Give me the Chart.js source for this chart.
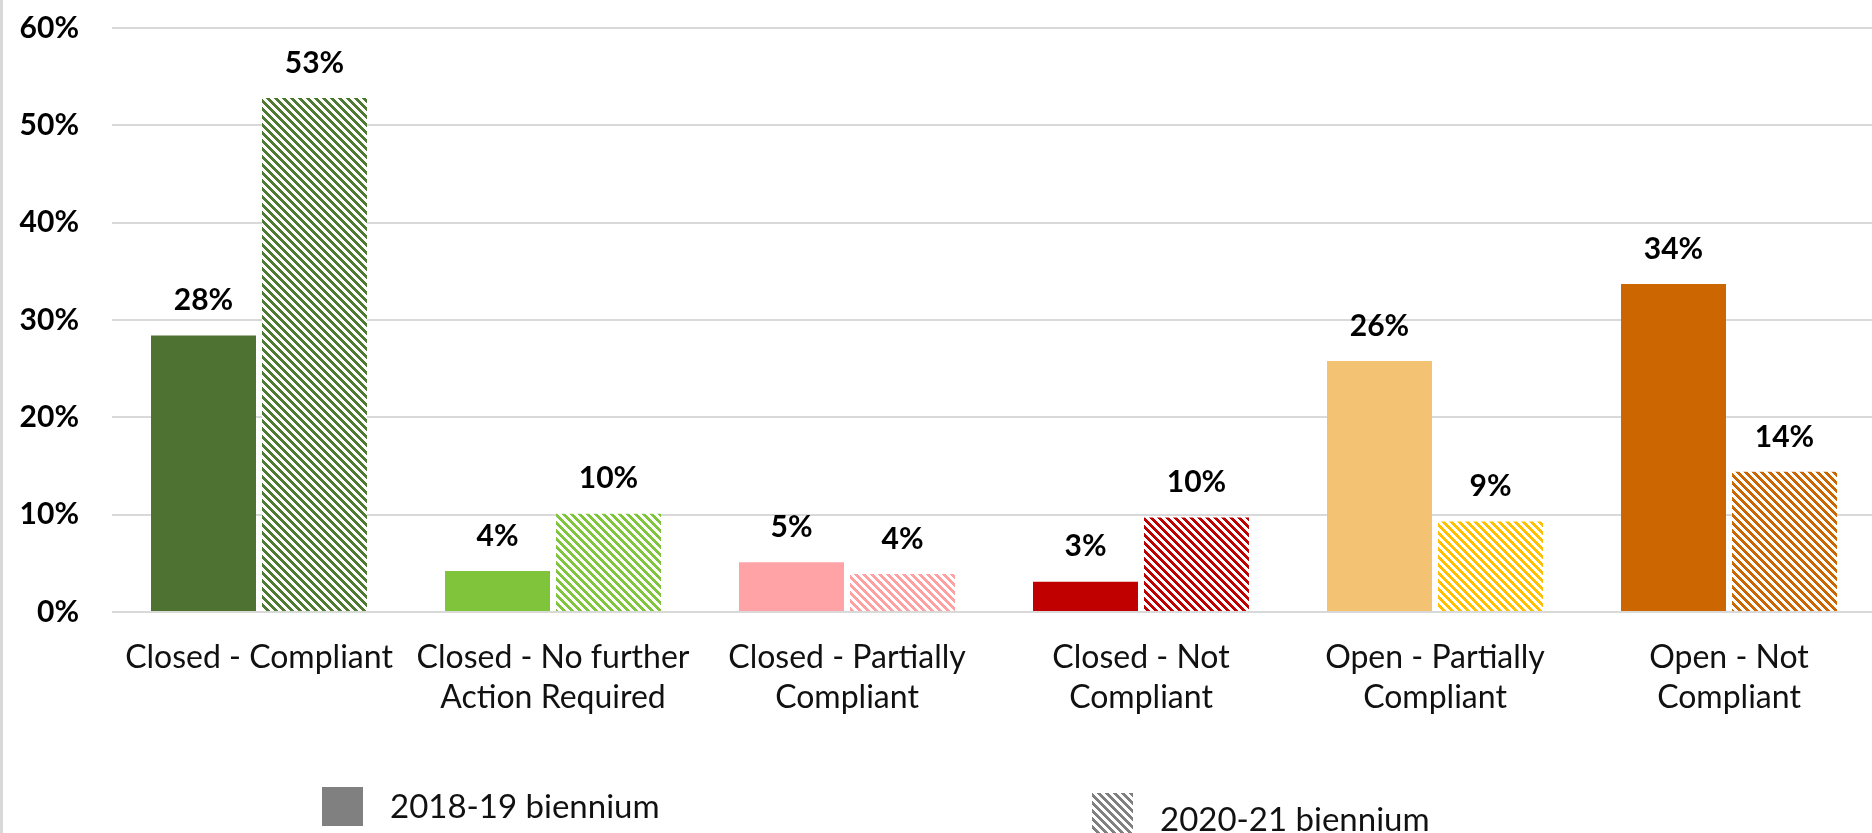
<!DOCTYPE html>
<html>
<head>
<meta charset="utf-8">
<script src="https://cdn.jsdelivr.net/npm/chart.js@4/dist/chart.umd.min.js"></script>
<style>
  html, body { margin: 0; padding: 0; background: #fff; overflow: hidden; }
  #wrap { position: relative; width: 1872px; height: 833px; overflow: hidden; }
  #edge { position: absolute; left: 0; top: 0; width: 3px; height: 833px; background: #d9d9d9; }
  #chart { position: absolute; left: 0; top: 0; }
</style>
</head>
<body>
<div id="wrap">
  <canvas id="chart" width="1880" height="833"></canvas>
  <div id="edge"></div>
</div>
<script>
// categories (multi-line labels as shown under the axis)
const categories = [
  ['Closed - Compliant'],
  ['Closed - No further', 'Action Required'],
  ['Closed - Partially', 'Compliant'],
  ['Closed - Not', 'Compliant'],
  ['Open - Partially', 'Compliant'],
  ['Open - Not', 'Compliant']
]
const seriesNames = ['2018-19 biennium', '2020-21 biennium']
const values2018 = [28.4, 4.2, 5.1, 3.1, 25.8, 33.7]
const values2020 = [52.8, 10.1, 3.9, 9.7, 9.3, 14.4]
const yTicks = [0, 10, 20, 30, 40, 50, 60]

const colors2018 = ['#4e7232', '#7fc43b', '#ffa3a6', '#c00000', '#f4c273', '#cc6600']
const colors2020 = ['#4e7a32', '#80c63c', '#ffa0a3', '#c00000', '#ffc000', '#cc6600']

const FONT = 'Lato, "Open Sans", sans-serif'

// wide downward diagonal hatch, like the Excel pattern fill
function hatch(color) {
    const c = document.createElement('canvas')
    c.width = 8
    c.height = 8
    const g = c.getContext('2d')
    g.fillStyle = '#fff'
    g.fillRect(0, 0, 8, 8)
    g.fillStyle = color
    for (let y = 0; y < 8; y++) {
        for (let x = 0; x < 8; x++) {
            if (((x - y) % 8 + 8) % 8 < 4) g.fillRect(x, y, 1, 1)
        }
    }
    return g.createPattern(c, 'repeat')
}

const valueLabels = {
    id: 'valueLabels',
    afterDatasetsDraw(chart) {
        const ctx = chart.ctx
        ctx.save()
        ctx.font = 'bold 30px ' + FONT
        ctx.fillStyle = '#000'
        ctx.textAlign = 'center'
        ctx.textBaseline = 'middle'
        chart.data.datasets.forEach((ds, i) => {
            chart.getDatasetMeta(i).data.forEach((bar, j) => {
                ctx.fillText(Math.round(ds.data[j]) + '%', bar.x, bar.y - 35)
            })
        })
        ctx.restore()
    }
}

// legend placed like the original (the two entries sit at different heights)
const legendBoxes = [
    { box: [322, 787, 41, 39], textX: 390, textY: 807 },
    { box: [1092, 793, 41, 41], textX: 1160, textY: 820 }
]
const customLegend = {
    id: 'customLegend',
    afterDraw(chart) {
        const ctx = chart.ctx
        ctx.save()
        ctx.font = '33px ' + FONT
        ctx.textBaseline = 'middle'
        ctx.textAlign = 'left'
        seriesNames.forEach((name, i) => {
            const p = legendBoxes[i]
            ctx.fillStyle = i === 0 ? '#808080' : hatch('#808080')
            ctx.fillRect(...p.box)
            ctx.fillStyle = '#111'
            ctx.fillText(name, p.textX, p.textY)
        })
        ctx.restore()
    }
}

const ctx = document.getElementById('chart')

const myChart = new Chart(ctx, {
    type: 'bar',
    data: {
        labels: categories,
        datasets: [
            {
                label: seriesNames[0],
                data: values2018,
                backgroundColor: colors2018
            },
            {
                label: seriesNames[1],
                data: values2020,
                backgroundColor: colors2020.map(hatch)
            }
        ]
    },
    options: {
        responsive: false,
        animation: false,
        events: [],
        layout: { padding: { top: 28, right: 4, left: 0, bottom: 0 } },
        categoryPercentage: 0.755,
        barPercentage: 0.946,
        plugins: {
            legend: { display: false },
            tooltip: { enabled: false }
        },
        scales: {
            x: {
                grid: { display: false, drawTicks: false },
                border: { display: false },
                ticks: {
                    color: '#111',
                    font: { family: FONT, size: 32, lineHeight: 1.25 },
                    padding: 26,
                    maxRotation: 0,
                    autoSkip: false
                },
                afterFit(scale) {
                    scale.height = 221
                    scale.paddingLeft = 0
                    scale.paddingRight = 0
                }
            },
            y: {
                min: yTicks[0],
                max: yTicks[yTicks.length - 1],
                afterBuildTicks(scale) { scale.ticks = yTicks.map(v => ({ value: v })) },
                grid: { color: '#d9d9d9', lineWidth: 2, drawTicks: false },
                border: { display: false },
                ticks: {
                    color: '#000',
                    font: { family: FONT, size: 30, weight: 'bold' },
                    padding: 33,
                    callback: v => v + '%'
                },
                afterFit(scale) {
                    scale.width = 112
                    scale.paddingTop = 0
                    scale.paddingBottom = 0
                }
            }
        }
    },
    plugins: [valueLabels, customLegend]
})
</script>
</body>
</html>
